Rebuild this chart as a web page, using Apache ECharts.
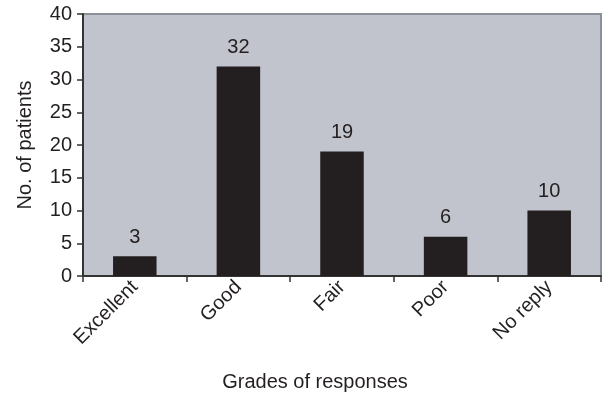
<!DOCTYPE html>
<html>
<head>
<meta charset="utf-8">
<script src="https://cdn.jsdelivr.net/npm/echarts@6/dist/echarts.min.js"></script>
<style>
  html, body { margin: 0; padding: 0; background: #fff; }
  #chart { width: 604px; height: 394px; }
</style>
</head>
<body>
<div id="chart"></div>
<script>
// data
const categories = ["Excellent", "Good", "Fair", "Poor", "No reply"];
const patients = [3, 32, 19, 6, 10];
const yTicks = { min: 0, max: 40, interval: 5 };

const FONT = "'Liberation Sans', Arial, sans-serif";
const TEXT = "#231f20";

const chart = echarts.init(document.getElementById("chart"));

chart.setOption({
  animation: false,
  grid: {
    left: 83,
    right: 3,
    top: 14,
    bottom: 118,
    show: true,
    backgroundColor: "#c1c4cc",
    borderColor: "#8a9097",
    borderWidth: 2
  },
  xAxis: {
    type: "category",
    data: categories,
    axisLine: { lineStyle: { color: "#333", width: 2 } },
    axisTick: { show: true, length: 6, lineStyle: { color: "#333", width: 1.5 } },
    axisLabel: {
      rotate: 45,
      margin: 8,
      fontFamily: FONT,
      fontSize: 20,
      color: TEXT,
      interval: 0
    }
  },
  yAxis: {
    type: "value",
    min: yTicks.min,
    max: yTicks.max,
    interval: yTicks.interval,
    name: "No. of patients",
    nameLocation: "middle",
    nameGap: 48,
    nameTextStyle: { fontFamily: FONT, fontSize: 20, color: TEXT },
    splitLine: { show: false },
    axisLine: { show: true, lineStyle: { color: "#333", width: 2 } },
    axisTick: { show: true, length: 6, lineStyle: { color: "#333", width: 1.5 } },
    axisLabel: { margin: 11, fontFamily: FONT, fontSize: 20, color: TEXT }
  },
  graphic: [
    {
      type: "text",
      x: 315,
      y: 382,
      style: {
        text: "Grades of responses",
        font: "20px " + FONT,
        fill: TEXT,
        align: "center",
        verticalAlign: "middle"
      }
    }
  ],
  series: [
    {
      type: "bar",
      data: patients,
      barWidth: "42%",
      itemStyle: { color: "#231f20" },
      label: {
        show: true,
        position: "top",
        distance: 9,
        fontFamily: FONT,
        fontSize: 20,
        color: TEXT
      }
    }
  ]
});
</script>
</body>
</html>
